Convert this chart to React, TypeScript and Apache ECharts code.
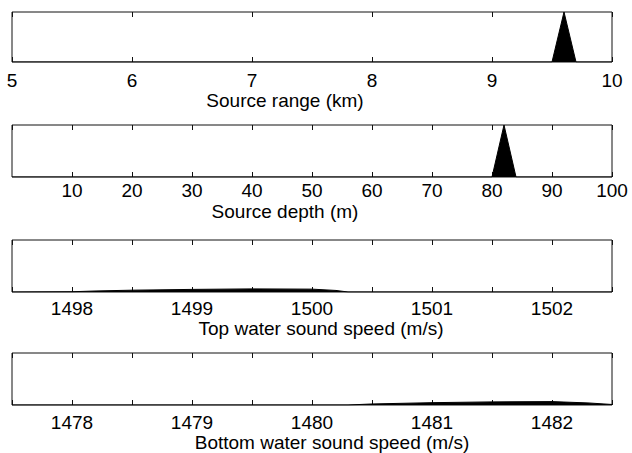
import React, { useEffect, useRef } from "react";
import * as echarts from "echarts";

// Panel axis titles
const axisTitles = [
  "Source range (km)",
  "Source depth (m)",
  "Top water sound speed (m/s)",
  "Bottom water sound speed (m/s)",
];

// Axis ranges [min, max, tickInterval]
const axisRanges: [number, number, number][] = [
  [5, 10, 1],
  [0, 100, 10],
  [1497.5, 1502.5, 0.5],
  [1477.5, 1482.5, 0.5],
];

// Posterior densities (normalized)
const sourceRange: [number, number][] = [
  [5, 0], [9.5, 0], [9.6, 1], [9.7, 0], [10, 0],
];
const sourceDepth: [number, number][] = [
  [0, 0], [80, 0], [82, 1], [84, 0], [100, 0],
];
const topSpeed: [number, number][] = [
  [1497.5, 0], [1498.0, 0.005], [1498.2, 0.02], [1498.5, 0.035], [1499.0, 0.05],
  [1499.5, 0.06], [1500.0, 0.055], [1500.2, 0.03], [1500.3, 0], [1502.5, 0],
];
const bottomSpeed: [number, number][] = [
  [1477.5, 0], [1480.3, 0], [1480.5, 0.02], [1481.0, 0.045], [1481.5, 0.06],
  [1482.0, 0.065], [1482.3, 0.04], [1482.5, 0.01],
];

const seriesData = [sourceRange, sourceDepth, topSpeed, bottomSpeed];

export default function App() {
  const ref = useRef<HTMLDivElement>(null);
  useEffect(() => {
    if (!ref.current) return;
    const chart = echarts.init(ref.current, undefined, { renderer: "svg" });
    const font = "'Liberation Sans', Arial, Helvetica, sans-serif";
    const tops = [12, 125, 240, 353];
    const heights = [50, 52, 52, 52];
    const labelGaps = [18, 13.5, 16, 17];
    const titleY = [100.5, 211, 328, 442];
    const titleX = [285, 285, 321, 332];
    const grids = tops.map((t, i) => ({
      left: 12,
      width: 600,
      top: t,
      height: heights[i],
      show: true,
      borderColor: "#111",
      borderWidth: 1,
      backgroundColor: "#fff",
    }));
    const xAxes: any[] = [];
    const yAxes: any[] = [];
    const series: any[] = [];
    axisRanges.forEach(([mn, mx, iv], i) => {
      xAxes.push({
        type: "value",
        gridIndex: i,
        position: "bottom",
        min: mn,
        max: mx,
        interval: iv,
        axisLine: { show: false },
        splitLine: { show: false },
        axisTick: { show: true, inside: true, length: 5, lineStyle: { color: "#111" } },
        axisLabel: {
          show: true,
          margin: labelGaps[i],
          verticalAlign: "middle",
          color: "#000",
          fontFamily: font,
          fontSize: 19,
          lineHeight: 17,
          showMinLabel: i === 1 ? false : true,
          showMaxLabel: true,
          formatter: (v: number) => (Math.abs(v - Math.round(v)) < 1e-9 ? String(Math.round(v)) : ""),
        },
      });
      xAxes.push({
        type: "value",
        gridIndex: i,
        position: "top",
        min: mn,
        max: mx,
        interval: iv,
        axisLine: { show: false },
        splitLine: { show: false },
        axisTick: { show: true, inside: true, length: 5, lineStyle: { color: "#111" } },
        axisLabel: { show: false },
      });
      yAxes.push({
        type: "value",
        gridIndex: i,
        min: 0,
        max: 1,
        show: false,
      });
      series.push({
        type: "line",
        xAxisIndex: i * 2,
        yAxisIndex: i,
        data: seriesData[i],
        symbol: "none",
        lineStyle: { color: "#000", width: 1 },
        areaStyle: { color: "#000", opacity: 1 },
        silent: true,
      });
    });
    const graphic = axisTitles.map((t, i) => ({
      type: "text",
      x: titleX[i],
      y: titleY[i],
      style: {
        text: t,
        fill: "#000",
        font: `19px ${font}`,
        lineHeight: 17,
        textAlign: "center",
        textVerticalAlign: "middle",
        verticalAlign: "middle",
      },
    }));
    chart.setOption({
      animation: false,
      backgroundColor: "#fff",
      grid: grids,
      xAxis: xAxes,
      yAxis: yAxes,
      series,
      graphic,
    });
    return () => chart.dispose();
  }, []);
  return (
    <div
      ref={ref}
      style={{ position: "fixed", left: 0, top: 0, width: 632, height: 453, background: "#fff" }}
    />
  );
}
